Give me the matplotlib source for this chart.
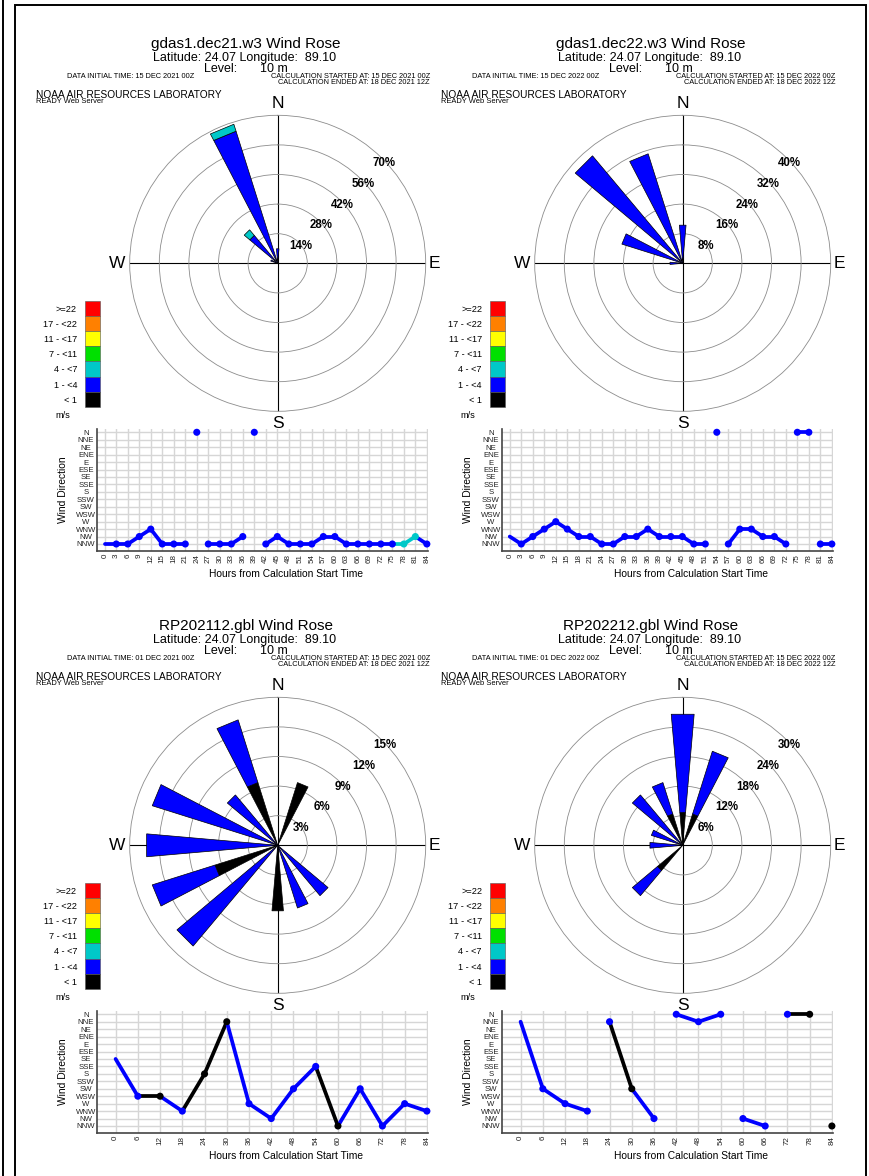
import numpy as np
import matplotlib
matplotlib.use("Agg")
import matplotlib.pyplot as plt
from matplotlib.patches import Rectangle
from matplotlib.transforms import offset_copy

plt.rcParams["font.family"] = ["Liberation Sans", "DejaVu Sans"]

FIG_W, FIG_H, DPI = 869, 1176, 100

# ---------------------------------------------------------------- data
COMPASS = ["N", "NNE", "NE", "ENE", "E", "ESE", "SE", "SSE",
           "S", "SSW", "SW", "WSW", "W", "WNW", "NW", "NNW"]
SPEED_LABELS = ["< 1", "1 - <4", "4 - <7", "7 - <11", "11 - <17", "17 - <22", ">=22"]
SPEED_COLORS = ["#000000", "#0000ff", "#00c8c8", "#00e000", "#ffff00", "#ff8000", "#ff0000"]

titles = ["gdas1.dec21.w3 Wind Rose", "gdas1.dec22.w3 Wind Rose",
          "RP202112.gbl Wind Rose", "RP202212.gbl Wind Rose"]
init_times = ["15 DEC 2021 00Z", "15 DEC 2022 00Z", "01 DEC 2021 00Z", "01 DEC 2022 00Z"]
start_times = ["15 DEC 2021 00Z", "15 DEC 2022 00Z", "15 DEC 2021 00Z", "15 DEC 2022 00Z"]
end_times = ["18 DEC 2021 12Z", "18 DEC 2022 12Z", "18 DEC 2021 12Z", "18 DEC 2022 12Z"]
ring_steps = [14, 8, 3, 6]

hours_3h = list(range(0, 85, 3))
hours_6h = list(range(0, 85, 6))

# gdas1.dec21.w3 : direction sector and speed class (0 calm, 1 = 1-<4, 2 = 4-<7)
dec21_dir = ["NNW", "NNW", "NNW", "NW", "WNW", "NNW", "NNW", "NNW", "N", "NNW",
             "NNW", "NNW", "NW", "N", "NNW", "NW", "NNW", "NNW", "NNW", "NW",
             "NW", "NNW", "NNW", "NNW", "NNW", "NNW", "NNW", "NW", "NNW"]
dec21_spd = [1, 1, 1, 1, 1, 1, 1, 1, 1, 1,
             1, 1, 1, 1, 1, 1, 1, 1, 1, 1,
             1, 1, 1, 1, 1, 1, 2, 2, 1]
dec21_breaks = [24, 27, 39, 42]

# gdas1.dec22.w3
dec22_dir = ["NW", "NNW", "NW", "WNW", "W", "WNW", "NW", "NW", "NNW", "NNW",
             "NW", "NW", "WNW", "NW", "NW", "NW", "NNW", "NNW", "N", "NNW",
             "WNW", "WNW", "NW", "NW", "NNW", "N", "N", "NNW", "NNW"]
dec22_spd = [1] * 29
dec22_breaks = [54, 57, 75, 81]

# RP202112.gbl
rp2112_dir = ["SE", "WSW", "WSW", "WNW", "S", "NNE", "W", "NW",
              "SW", "SSE", "NNW", "SW", "NNW", "W", "WNW"]
rp2112_spd = [1, 1, 0, 1, 0, 0, 1, 1, 1, 1, 0, 1, 1, 1, 1]
rp2112_breaks = []

# RP202212.gbl
rp2212_dir = ["NNE", "SW", "W", "WNW", "NNE", "SW", "NW", "N",
              "NNE", "N", "NW", "NNW", "N", "N", "NNW"]
rp2212_spd = [0, 1, 1, 1, 1, 0, 1, 1, 1, 1, 1, 1, 1, 0, 0]
rp2212_breaks = [24, 42, 60, 72, 84]

panels = [
    dict(hours=hours_3h, dirs=dec21_dir, spd=dec21_spd, breaks=dec21_breaks, xlim=(-2.1, 84.3)),
    dict(hours=hours_3h, dirs=dec22_dir, spd=dec22_spd, breaks=dec22_breaks, xlim=(-2.1, 84.3)),
    dict(hours=hours_6h, dirs=rp2112_dir, spd=rp2112_spd, breaks=rp2112_breaks, xlim=(-5.1, 84.3)),
    dict(hours=hours_6h, dirs=rp2212_dir, spd=rp2212_spd, breaks=rp2212_breaks, xlim=(-5.1, 84.3)),
]
origins = [(0, 0), (405, 0), (0, 582), (405, 582)]

# ---------------------------------------------------------------- figure
fig = plt.figure(figsize=(FIG_W / DPI, FIG_H / DPI), dpi=DPI)

# pixel-space overlay for page furniture (frames, headers, legends)
page = fig.add_axes([0, 0, 1, 1], zorder=-5)
page.set_xlim(0, FIG_W)
page.set_ylim(FIG_H, 0)
page.axis("off")


def px_rect(left, top, right, bottom):
    return [left / FIG_W, 1 - bottom / FIG_H, (right - left) / FIG_W, (bottom - top) / FIG_H]


# page frames
page.plot([2.5, 2.5], [0, FIG_H], color="black", lw=1.4, solid_capstyle="butt")
page.plot([15, 15, 866, 866], [FIG_H, 4.5, 4.5, FIG_H], color="black", lw=1.4,
          solid_joinstyle="miter")

R_PX = 148.0
DELTA = np.deg2rad(5.0)


def draw_rose(i, ox, oy):
    p = panels[i]
    step = ring_steps[i]
    rmax = 5 * step
    cx, cy = 277.7 + ox, 263.3 + oy
    ax = fig.add_axes(px_rect(cx - R_PX, cy - R_PX, cx + R_PX, cy + R_PX), projection="polar")
    ax.set_theta_zero_location("N")
    ax.set_theta_direction(-1)
    ax.set_ylim(0, rmax)
    ax.set_yticks(np.arange(1, 5) * step)
    ax.set_yticklabels([])
    ax.set_xticks(np.deg2rad([0, 90, 180, 270]))
    ax.set_xticklabels([])
    ax.yaxis.grid(True, color="#8c8c8c", lw=0.6)
    ax.xaxis.grid(True, color="black", lw=0.8)
    ax.spines["polar"].set_color("#8c8c8c")
    ax.spines["polar"].set_linewidth(0.6)
    ax.patch.set_alpha(0)
    ax.tick_params(length=0)

    # frequency of each sector / speed class
    n = len(p["dirs"])
    freq = np.zeros((16, len(SPEED_COLORS)))
    for d, s in zip(p["dirs"], p["spd"]):
        freq[COMPASS.index(d), s] += 100.0 / n
    for k in range(16):
        theta = np.deg2rad(k * 22.5)
        r0 = 0.0
        for s in range(len(SPEED_COLORS)):
            v = freq[k, s]
            if v <= 0:
                continue
            r1 = r0 + v
            ax.fill([theta - DELTA, theta - DELTA, theta + DELTA, theta + DELTA],
                    [r0, r1, r1, r0], facecolor=SPEED_COLORS[s],
                    edgecolor="black", lw=0.5, zorder=3)
            r0 = r1

    # compass letters
    for ang, lab, rr in [(0, "N", 1.082), (90, "E", 1.06), (180, "S", 1.082), (270, "W", 1.082)]:
        ax.text(np.deg2rad(ang), rr * rmax, lab, ha="center", va="center",
                fontsize=12.5, clip_on=False)
    # ring percentages
    tr = offset_copy(ax.transData, fig=fig, x=2, y=-4, units="dots")
    for k in range(1, 6):
        ax.text(np.deg2rad(45), k * step, f"{k * step}%", transform=tr,
                ha="center", va="center", fontsize=8.3, fontweight="bold", zorder=5)


def draw_header(i, ox, oy):
    page.text(245.7 + ox, 44 + oy, titles[i], ha="center", va="center", fontsize=11)
    page.text(245.0 + ox, 57.5 + oy, "Latitude: 24.07 Longitude:  89.10",
              ha="center", va="center", fontsize=9)
    page.text(237.3 + ox, 69 + oy, "Level:", ha="right", va="center", fontsize=9)
    page.text(260.0 + ox, 69 + oy, "10 m", ha="left", va="center", fontsize=9)
    page.text(66.7 + ox, 77 + oy, f"DATA INITIAL TIME: {init_times[i]}",
              ha="left", va="center", fontsize=5.3)
    page.text(430 + ox, 77 + oy, f"CALCULATION STARTED AT: {start_times[i]}",
              ha="right", va="center", fontsize=5.3)
    page.text(430 + ox, 83 + oy, f"CALCULATION ENDED AT: {end_times[i]}",
              ha="right", va="center", fontsize=5.3)
    page.text(35.7 + ox, 95 + oy, "NOAA AIR RESOURCES LABORATORY",
              ha="left", va="center", fontsize=7.3)
    page.text(35.7 + ox, 101.7 + oy, "READY Web Server",
              ha="left", va="center", fontsize=5.4)


def draw_legend(ox, oy):
    box_h = 15.1
    top = 301 + oy
    for j, s in enumerate(range(len(SPEED_COLORS) - 1, -1, -1)):
        y0 = top + j * box_h
        page.add_patch(Rectangle((85 + ox, y0), 15, box_h, facecolor=SPEED_COLORS[s],
                                 edgecolor="#555555", lw=0.4))
        page.text(77 + ox, y0 + box_h / 2 + 1, SPEED_LABELS[s], ha="right", va="center",
                  fontsize=6.6)
    page.text(63 + ox, 415 + oy, "m/s", ha="center", va="center", fontsize=6.6)


def draw_series(i, ox, oy):
    p = panels[i]
    ax = fig.add_axes(px_rect(96.7 + ox, 429 + oy, 428 + ox, 551 + oy))
    ax.set_xlim(*p["xlim"])
    ax.set_ylim(0.06, 16.44)
    ax.set_xticks(p["hours"])
    ax.set_xticklabels([str(h) for h in p["hours"]], rotation=90)
    ax.set_yticks(np.arange(16, 0, -1))
    ax.set_yticklabels(COMPASS)
    plt.setp(ax.get_yticklabels(), ha="center")
    ax.tick_params(axis="y", length=0, pad=7.7, labelsize=5.6, labelcolor="#222222")
    ax.tick_params(axis="x", length=0, pad=2, labelsize=5.8, labelcolor="#222222")
    ax.grid(True, color="#d6d6d6", lw=1.0)
    ax.set_axisbelow(True)
    for side in ("top", "right"):
        ax.spines[side].set_visible(False)
    for side in ("left", "bottom"):
        ax.spines[side].set_color("#444444")
        ax.spines[side].set_linewidth(1.2)

    hrs = p["hours"]
    yv = [16 - COMPASS.index(d) for d in p["dirs"]]
    for k in range(1, len(hrs)):
        if hrs[k] in p["breaks"]:
            continue
        ax.plot([hrs[k - 1], hrs[k]], [yv[k - 1], yv[k]], color=SPEED_COLORS[p["spd"][k]],
                lw=2.7, solid_capstyle="round", zorder=3, clip_on=False)
    ax.scatter(hrs[1:], yv[1:], s=26, c=[SPEED_COLORS[s] for s in p["spd"][1:]],
               zorder=4, clip_on=False, linewidths=0)

    page.text(63.3 + ox, 490 + oy, "Wind Direction", rotation=90, ha="center",
              va="center", fontsize=7.4)
    page.text(286 + ox, 574 + oy, "Hours from Calculation Start Time", ha="center",
              va="center", fontsize=7.4)


for i, (ox, oy) in enumerate(origins):
    draw_header(i, ox, oy)
    draw_legend(ox, oy)
    draw_rose(i, ox, oy)
    draw_series(i, ox, oy)

fig.savefig("out.png", dpi=DPI)
